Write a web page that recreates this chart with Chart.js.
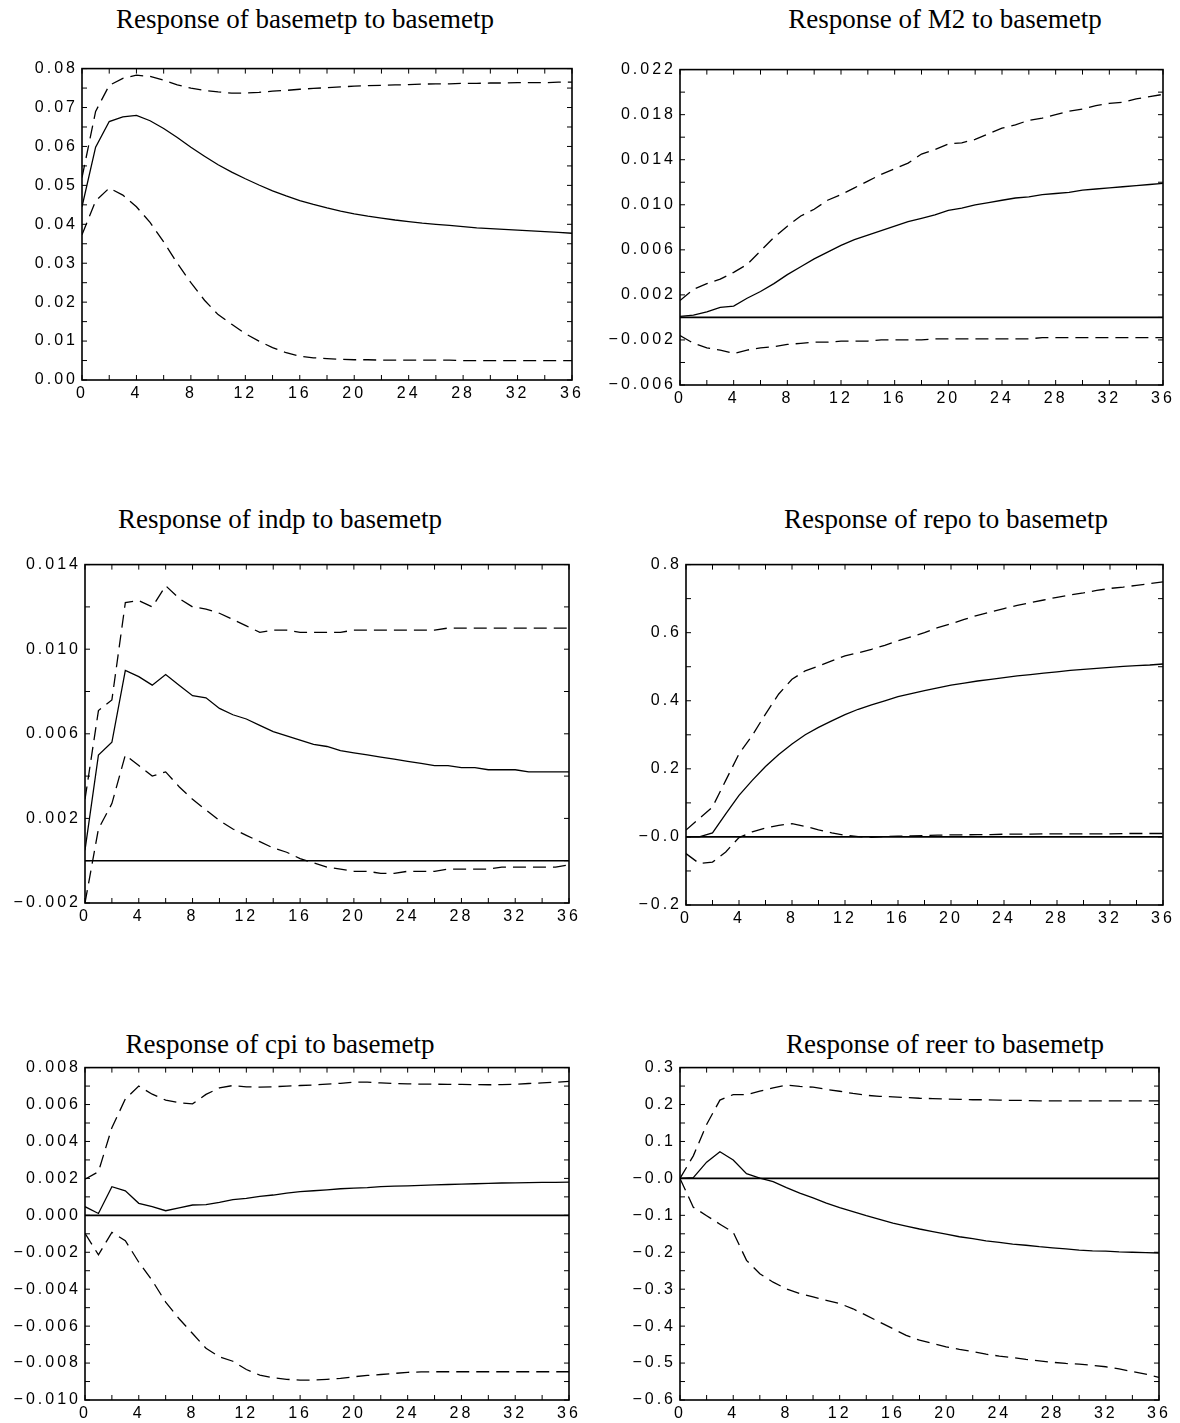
<!DOCTYPE html>
<html>
<head>
<meta charset="utf-8">
<script src="https://cdn.jsdelivr.net/npm/chart.js@4.4.1/dist/chart.umd.min.js"></script>
<style>
  html, body { margin: 0; padding: 0; background: #fff; }
  body { width: 1180px; height: 1423px; position: relative; overflow: hidden; }
  .title { position: absolute; font-family: "Liberation Serif", "Times New Roman", serif; font-size: 27px; line-height: 27px; color: #000; white-space: nowrap; transform: translateX(-50%); }
  canvas { position: absolute; }
</style>
</head>
<body>
<div class="title" id="t1">Response of basemetp to basemetp</div>
<div class="title" id="t2">Response of M2 to basemetp</div>
<div class="title" id="t3">Response of indp to basemetp</div>
<div class="title" id="t4">Response of repo to basemetp</div>
<div class="title" id="t5">Response of cpi to basemetp</div>
<div class="title" id="t6">Response of reer to basemetp</div>
<canvas id="c1"></canvas>
<canvas id="c2"></canvas>
<canvas id="c3"></canvas>
<canvas id="c4"></canvas>
<canvas id="c5"></canvas>
<canvas id="c6"></canvas>
<script>
// ---------------- DATA ----------------
const periods = [0,1,2,3,4,5,6,7,8,9,10,11,12,13,14,15,16,17,18,19,20,21,22,23,24,25,26,27,28,29,30,31,32,33,34,35,36];
const xTickValues = [0,4,8,12,16,20,24,28,32,36];
const xTickLabels = ['0','4','8','12','16','20','24','28','32','36'];

// Response of basemetp to basemetp
const basemetpResp  = [0.0445,0.0598,0.0664,0.0676,0.0680,0.0666,0.0646,0.0623,0.0598,0.0575,0.0553,0.0534,0.0517,0.0501,0.0486,0.0473,0.0461,0.0451,0.0442,0.0434,0.0427,0.0421,0.0416,0.0411,0.0407,0.0403,0.0400,0.0397,0.0394,0.0391,0.0389,0.0387,0.0385,0.0383,0.0381,0.0379,0.0377];
const basemetpUpper = [0.052,0.069,0.0757,0.0775,0.0783,0.0780,0.0770,0.0758,0.0750,0.0744,0.0740,0.0737,0.0737,0.0739,0.0742,0.0744,0.0747,0.0749,0.0751,0.0753,0.0755,0.0756,0.0757,0.0758,0.0759,0.0760,0.0761,0.0761,0.0762,0.0762,0.0763,0.0763,0.0764,0.0764,0.0764,0.0765,0.0765];
const basemetpLower = [0.0373,0.046,0.0493,0.0475,0.0445,0.0405,0.0355,0.0300,0.0250,0.0205,0.0168,0.0143,0.0119,0.0100,0.0083,0.0070,0.0061,0.0057,0.0055,0.0053,0.0052,0.0052,0.0051,0.0051,0.0051,0.0051,0.0051,0.0051,0.0050,0.0050,0.0050,0.0050,0.0050,0.0050,0.0050,0.0050,0.0050];
const basemetpTickValues = [0,0.01,0.02,0.03,0.04,0.05,0.06,0.07,0.08];
const basemetpTickLabels = ['0.00','0.01','0.02','0.03','0.04','0.05','0.06','0.07','0.08'];

// Response of M2 to basemetp
const m2Resp  = [0.0001,0.0002,0.0005,0.0009,0.0010,0.0017,0.0023,0.0030,0.0038,0.0045,0.0052,0.0058,0.0064,0.0069,0.0073,0.0077,0.0081,0.0085,0.0088,0.0091,0.0095,0.0097,0.0100,0.0102,0.0104,0.0106,0.0107,0.0109,0.0110,0.0111,0.0113,0.0114,0.0115,0.0116,0.0117,0.0118,0.0119];
const m2Upper = [0.0015,0.0025,0.0030,0.0034,0.0040,0.0047,0.0059,0.0071,0.0081,0.0090,0.0096,0.0104,0.0109,0.0115,0.0121,0.0127,0.0132,0.0137,0.0145,0.0149,0.0154,0.0155,0.0158,0.0163,0.0168,0.0171,0.0175,0.0177,0.0180,0.0183,0.0185,0.0188,0.0190,0.0191,0.0194,0.0196,0.0198];
const m2Lower = [-0.0016,-0.0023,-0.0027,-0.0029,-0.0032,-0.0029,-0.0027,-0.0026,-0.0024,-0.0023,-0.0022,-0.0022,-0.0021,-0.0021,-0.0021,-0.0020,-0.0020,-0.0020,-0.0020,-0.0019,-0.0019,-0.0019,-0.0019,-0.0019,-0.0019,-0.0019,-0.0019,-0.0018,-0.0018,-0.0018,-0.0018,-0.0018,-0.0018,-0.0018,-0.0018,-0.0018,-0.0018];
const m2TickValues = [-0.006,-0.002,0.002,0.006,0.010,0.014,0.018,0.022];
const m2TickLabels = ['\u22120.006','\u22120.002','0.002','0.006','0.010','0.014','0.018','0.022'];

// Response of indp to basemetp
const indpResp  = [0.0005,0.0050,0.0056,0.0090,0.0087,0.0083,0.0088,0.0083,0.0078,0.0077,0.0072,0.0069,0.0067,0.0064,0.0061,0.0059,0.0057,0.0055,0.0054,0.0052,0.0051,0.0050,0.0049,0.0048,0.0047,0.0046,0.0045,0.0045,0.0044,0.0044,0.0043,0.0043,0.0043,0.0042,0.0042,0.0042,0.0042];
const indpUpper = [0.0029,0.0071,0.0076,0.0122,0.0123,0.0120,0.0130,0.0124,0.0120,0.0119,0.0117,0.0114,0.0111,0.0108,0.0109,0.0109,0.0108,0.0108,0.0108,0.0108,0.0109,0.0109,0.0109,0.0109,0.0109,0.0109,0.0109,0.0110,0.0110,0.0110,0.0110,0.0110,0.0110,0.0110,0.0110,0.0110,0.0110];
const indpLower = [-0.0020,0.0015,0.0027,0.0050,0.0045,0.0040,0.0042,0.0035,0.0029,0.0024,0.0019,0.0015,0.0012,0.0009,0.0006,0.0004,0.0001,-0.0001,-0.0003,-0.0004,-0.0005,-0.0005,-0.0006,-0.0006,-0.0005,-0.0005,-0.0005,-0.0004,-0.0004,-0.0004,-0.0004,-0.0003,-0.0003,-0.0003,-0.0003,-0.0003,-0.0002];
const indpTickValues = [-0.002,0.002,0.006,0.010,0.014];
const indpTickLabels = ['\u22120.002','0.002','0.006','0.010','0.014'];

// Response of repo to basemetp
const repoResp  = [0.000,0.000,0.012,0.068,0.122,0.166,0.207,0.242,0.273,0.300,0.322,0.341,0.359,0.375,0.388,0.400,0.412,0.421,0.430,0.438,0.446,0.452,0.458,0.463,0.468,0.473,0.477,0.481,0.485,0.489,0.492,0.495,0.498,0.501,0.503,0.505,0.508];
const repoUpper = [0.020,0.054,0.088,0.166,0.244,0.298,0.361,0.420,0.463,0.488,0.502,0.517,0.532,0.541,0.551,0.563,0.576,0.588,0.600,0.615,0.626,0.639,0.651,0.661,0.671,0.680,0.688,0.696,0.704,0.711,0.717,0.724,0.730,0.734,0.739,0.744,0.749];
const repoLower = [-0.049,-0.078,-0.074,-0.044,-0.002,0.015,0.026,0.034,0.039,0.031,0.021,0.012,0.005,0.001,-0.001,0.001,0.002,0.003,0.004,0.005,0.006,0.006,0.007,0.007,0.008,0.008,0.008,0.009,0.009,0.009,0.009,0.009,0.009,0.010,0.010,0.010,0.010];
const repoTickValues = [-0.2,0,0.2,0.4,0.6,0.8];
const repoTickLabels = ['\u22120.2','\u22120.0','0.2','0.4','0.6','0.8'];

// Response of cpi to basemetp
const cpiResp  = [0.00047,0.00010,0.00155,0.00133,0.00065,0.00047,0.00025,0.00040,0.00056,0.00058,0.00070,0.00085,0.00092,0.00103,0.00110,0.00120,0.00128,0.00133,0.00138,0.00144,0.00147,0.00150,0.00155,0.00158,0.00160,0.00162,0.00165,0.00167,0.00169,0.00171,0.00173,0.00175,0.00176,0.00177,0.00178,0.00179,0.00180];
const cpiUpper = [0.00196,0.00236,0.00475,0.00630,0.00700,0.00656,0.00624,0.00610,0.00604,0.00655,0.00690,0.00703,0.00696,0.00694,0.00696,0.00700,0.00703,0.00706,0.00710,0.00715,0.00721,0.00721,0.00717,0.00714,0.00712,0.00710,0.00710,0.00709,0.00709,0.00708,0.00707,0.00708,0.00710,0.00714,0.00717,0.00721,0.00725];
const cpiLower = [-0.00097,-0.00214,-0.00092,-0.00137,-0.00254,-0.00353,-0.00470,-0.00560,-0.00640,-0.00720,-0.00766,-0.00790,-0.00835,-0.00865,-0.00880,-0.00888,-0.00892,-0.00892,-0.00888,-0.00883,-0.00874,-0.00867,-0.00862,-0.00856,-0.00850,-0.00848,-0.00847,-0.00847,-0.00847,-0.00847,-0.00847,-0.00847,-0.00847,-0.00847,-0.00847,-0.00847,-0.00847];
const cpiTickValues = [-0.010,-0.008,-0.006,-0.004,-0.002,0,0.002,0.004,0.006,0.008];
const cpiTickLabels = ['\u22120.010','\u22120.008','\u22120.006','\u22120.004','\u22120.002','0.000','0.002','0.004','0.006','0.008'];

// Response of reer to basemetp
const reerResp  = [0.000,0.002,0.044,0.072,0.050,0.013,0.001,-0.009,-0.025,-0.040,-0.053,-0.067,-0.079,-0.090,-0.101,-0.111,-0.121,-0.129,-0.137,-0.144,-0.151,-0.158,-0.163,-0.169,-0.173,-0.178,-0.181,-0.185,-0.188,-0.191,-0.194,-0.196,-0.197,-0.199,-0.200,-0.201,-0.202];
const reerUpper = [0.000,0.061,0.146,0.212,0.227,0.227,0.236,0.245,0.253,0.249,0.247,0.241,0.236,0.230,0.225,0.222,0.221,0.219,0.217,0.216,0.215,0.214,0.213,0.213,0.212,0.211,0.211,0.210,0.210,0.210,0.210,0.210,0.210,0.210,0.210,0.210,0.210];
const reerLower = [0.000,-0.078,-0.101,-0.124,-0.146,-0.222,-0.258,-0.281,-0.299,-0.312,-0.321,-0.330,-0.339,-0.353,-0.371,-0.389,-0.407,-0.425,-0.438,-0.447,-0.456,-0.463,-0.469,-0.476,-0.481,-0.485,-0.490,-0.494,-0.498,-0.501,-0.503,-0.506,-0.510,-0.516,-0.523,-0.530,-0.539];
const reerTickValues = [-0.6,-0.5,-0.4,-0.3,-0.2,-0.1,0,0.1,0.2,0.3];
const reerTickLabels = ['\u22120.6','\u22120.5','\u22120.4','\u22120.3','\u22120.2','\u22120.1','\u22120.0','0.1','0.2','0.3'];

// ---------------- LAYOUT ----------------
const TICK_FONT = { family: '"Liberation Sans", Arial, sans-serif', size: 16 };
const PAD_L = 84, PAD_T = 12, PAD_R = 14, PAD_B = 30;

const framePlugin = {
  id: 'frame',
  beforeDraw(chart) { chart.ctx.letterSpacing = '3px'; },
  afterDraw(chart) { chart.ctx.letterSpacing = '0px'; },
  afterDatasetsDraw(chart, args, opts) {
    const ctx = chart.ctx, a = chart.chartArea, x = chart.scales.x, y = chart.scales.y;
    ctx.save();
    ctx.strokeStyle = '#000';
    const seg = (x1, y1, x2, y2) => { ctx.beginPath(); ctx.moveTo(x1, y1); ctx.lineTo(x2, y2); ctx.stroke(); };
    if (opts.zero) {
      ctx.lineWidth = 1.6;
      const yz = y.getPixelForValue(0);
      seg(a.left, yz, a.right, yz);
    }
    ctx.lineWidth = 1;
    const tl = 5;
    for (let k = 0; ; k++) {
      const v = x.min + k * opts.xMinor;
      if (v > x.max + 1e-9) break;
      const px = x.getPixelForValue(v);
      seg(px, a.top, px, a.top + tl);
      seg(px, a.bottom, px, a.bottom - tl);
    }
    for (let k = 0; ; k++) {
      const v = y.min + k * opts.yMinor;
      if (v > y.max + opts.yMinor * 1e-6) break;
      const py = y.getPixelForValue(v);
      seg(a.left, py, a.left + tl, py);
      seg(a.right, py, a.right - tl, py);
    }
    ctx.lineWidth = 1.6;
    ctx.strokeRect(a.left, a.top, a.right - a.left, a.bottom - a.top);
    ctx.restore();
  }
};
Chart.register(framePlugin);

function toPoints(vals) { return periods.map((p, i) => ({ x: p, y: vals[i] })); }

function makePanel(id, titleId, box, titlePos, resp, upper, lower, tickVals, tickLabels, yMinor, zero) {
  const cv = document.getElementById(id);
  const w = box.R - box.L + PAD_L + PAD_R;
  const h = box.B - box.T + PAD_T + PAD_B;
  cv.width = w; cv.height = h;
  cv.style.width = w + 'px'; cv.style.height = h + 'px';
  cv.style.left = (box.L - PAD_L) + 'px';
  cv.style.top = (box.T - PAD_T) + 'px';
  const t = document.getElementById(titleId);
  t.style.left = titlePos.cx + 'px';
  t.style.top = (titlePos.cy - 14) + 'px';

  const solid = { borderColor: '#000', borderWidth: 1.3, pointRadius: 0, tension: 0, fill: false };
  const dashed = Object.assign({}, solid, { borderDash: [13, 7] });
  new Chart(cv, {
    type: 'line',
    data: {
      datasets: [
        Object.assign({ label: 'Response', data: toPoints(resp) }, solid),
        Object.assign({ label: '+2 S.E.', data: toPoints(upper) }, dashed),
        Object.assign({ label: '\u22122 S.E.', data: toPoints(lower) }, dashed)
      ]
    },
    options: {
      responsive: false,
      animation: false,
      layout: { padding: { left: 0, top: PAD_T, right: PAD_R, bottom: 0 } },
      plugins: { legend: { display: false }, tooltip: { enabled: false }, frame: { zero: zero, xMinor: 2, yMinor: yMinor } },
      scales: {
        x: {
          type: 'linear', min: 0, max: 36,
          afterBuildTicks: s => { s.ticks = xTickValues.map(v => ({ value: v })); },
          afterFit: s => { s.height = PAD_B; },
          ticks: { callback: (v, i) => xTickLabels[i], autoSkip: false, maxRotation: 0, padding: 4, font: TICK_FONT, color: '#000' },
          grid: { display: false, drawTicks: false },
          border: { display: false }
        },
        y: {
          type: 'linear', min: tickVals[0], max: tickVals[tickVals.length - 1],
          afterBuildTicks: s => { s.ticks = tickVals.map(v => ({ value: v })); },
          afterFit: s => { s.width = PAD_L; },
          ticks: { callback: (v, i) => tickLabels[i], autoSkip: false, padding: 4, font: TICK_FONT, color: '#000' },
          grid: { display: false, drawTicks: false },
          border: { display: false }
        }
      }
    }
  });
}

makePanel('c1', 't1', { L: 82, R: 572, T: 67, B: 380 }, { cx: 305, cy: 20 }, basemetpResp, basemetpUpper, basemetpLower, basemetpTickValues, basemetpTickLabels, 0.005, false);
makePanel('c2', 't2', { L: 680, R: 1163, T: 68, B: 385 }, { cx: 945, cy: 20 }, m2Resp, m2Upper, m2Lower, m2TickValues, m2TickLabels, 0.002, true);
makePanel('c3', 't3', { L: 85, R: 569, T: 563, B: 903 }, { cx: 280, cy: 520 }, indpResp, indpUpper, indpLower, indpTickValues, indpTickLabels, 0.002, true);
makePanel('c4', 't4', { L: 686, R: 1163, T: 563, B: 905 }, { cx: 946, cy: 520 }, repoResp, repoUpper, repoLower, repoTickValues, repoTickLabels, 0.1, true);
makePanel('c5', 't5', { L: 85, R: 569, T: 1066, B: 1400 }, { cx: 280, cy: 1045 }, cpiResp, cpiUpper, cpiLower, cpiTickValues, cpiTickLabels, 0.001, true);
makePanel('c6', 't6', { L: 680, R: 1159, T: 1066, B: 1400 }, { cx: 945, cy: 1045 }, reerResp, reerUpper, reerLower, reerTickValues, reerTickLabels, 0.05, true);
</script>
</body>
</html>
